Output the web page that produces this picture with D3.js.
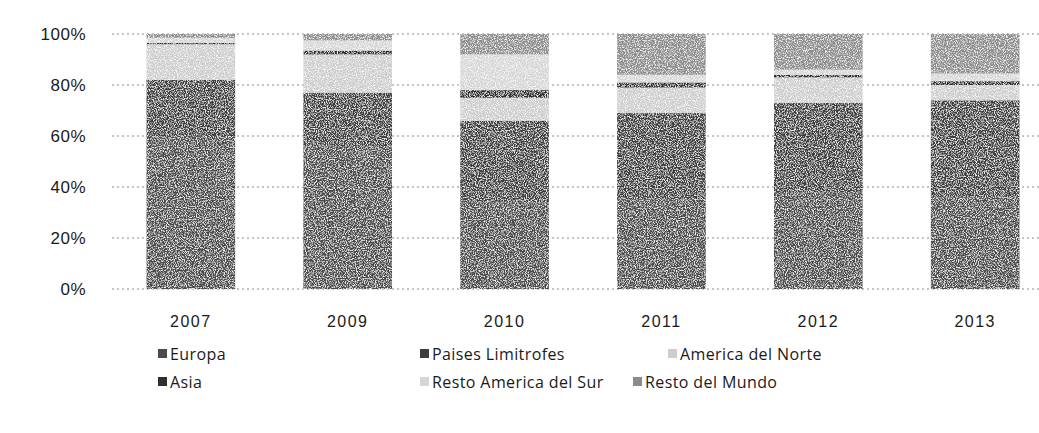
<!DOCTYPE html>
<html>
<head>
<meta charset="utf-8">
<script src="https://cdn.jsdelivr.net/npm/d3@7"></script>
<style>
	body { margin: 0; background: #fff; }
	svg { display: block; font-family: "Open Sans", "DejaVu Sans", sans-serif; }
	.tick text { fill: #1a1a1a; }
</style>
</head>
<body>
<script>
// years on the x axis
var years = ['2007', '2009', '2010', '2011', '2012', '2013'];

// share of each region per year (percent), bottom of the stack first
var europa = [60, 56, 34, 35, 38, 36];
var paisesLimitrofes = [22, 21, 32, 34, 35, 38];
var americaNorte = [14, 15, 9, 10, 10, 6];
var asia = [0.5, 1.5, 3, 2, 1, 1.5];
var restoAmericaSur = [2, 4, 14, 3, 2, 3];
var restoMundo = [1.5, 2.5, 8, 16, 14, 15.5];

var seriesNames = ['Europa', 'Paises Limitrofes', 'America del Norte', 'Asia', 'Resto America del Sur', 'Resto del Mundo'];
var seriesValues = [europa, paisesLimitrofes, americaNorte, asia, restoAmericaSur, restoMundo];
var seriesColors = ['#4a4a4a', '#3c3c3c', '#cdcdcd', '#2e2e2e', '#d6d6d6', '#8c8c8c'];

var yTicks = [0, 20, 40, 60, 80, 100];

// build rows for d3.stack
var rows = years.map(function(y, i) {
	var r = { year: y };
	seriesNames.forEach(function(n, k) { r[n] = seriesValues[k][i]; });
	return r;
});

var width = 1039, height = 433;
var margin = { top: 34, left: 112 };
var plotW = 942, plotH = 255;

var svg = d3.select("body").append("svg")
	.attr("width", width)
	.attr("height", height);

// grainy look of the scanned original
var filter = svg.append("defs").append("filter")
	.attr("id", "grain")
	.attr("x", 0).attr("y", 0).attr("width", 1).attr("height", 1);
filter.append("feTurbulence")
	.attr("type", "fractalNoise")
	.attr("baseFrequency", 0.9)
	.attr("numOctaves", 2)
	.attr("seed", 3)
	.attr("result", "noise");
filter.append("feColorMatrix")
	.attr("in", "noise")
	.attr("type", "matrix")
	.attr("values", "0 0 0 0 1  0 0 0 0 1  0 0 0 0 1  0 0 0 3 -1.35")
	.attr("result", "specks");
filter.append("feComposite")
	.attr("in", "specks")
	.attr("in2", "SourceGraphic")
	.attr("operator", "in")
	.attr("result", "masked");
var merge = filter.append("feMerge");
merge.append("feMergeNode").attr("in", "SourceGraphic");
merge.append("feMergeNode").attr("in", "masked");

var g = svg.append("g")
	.attr("transform", "translate(" + margin.left + "," + margin.top + ")");

var x = d3.scaleBand()
	.domain(years)
	.range([0, plotW])
	.paddingInner(0.435)
	.paddingOuter(0.22);

var y = d3.scaleLinear()
	.domain([0, 100])
	.range([plotH, 0]);

// dotted gridlines
g.selectAll(".grid")
	.data(yTicks)
	.enter().append("line")
	.attr("class", "grid")
	.attr("x1", 0)
	.attr("x2", plotW)
	.attr("y1", function(d) { return y(d); })
	.attr("y2", function(d) { return y(d); })
	.attr("stroke", "#8a8a8a")
	.attr("stroke-width", 1)
	.attr("stroke-dasharray", "2,3");

// y axis labels
var yAxis = g.append("g")
	.call(d3.axisLeft(y).tickValues(yTicks).tickSize(0).tickPadding(26)
		.tickFormat(function(d) { return d + "%"; }));
yAxis.select(".domain").remove();
yAxis.selectAll("text").style("font-size", "17px").style("letter-spacing", "0.5px");

// stacked bars
var stack = d3.stack().keys(seriesNames);
var layers = stack(rows);

var bars = g.append("g").attr("filter", "url(#grain)");

var layer = bars.selectAll(".layer")
	.data(layers)
	.enter().append("g")
	.attr("class", "layer")
	.attr("fill", function(d, i) { return seriesColors[i]; });

layer.selectAll("rect")
	.data(function(d) { return d; })
	.enter().append("rect")
	.attr("x", function(d) { return x(d.data.year); })
	.attr("width", x.bandwidth())
	.attr("y", function(d) { return y(d[1]); })
	.attr("height", function(d) { return y(d[0]) - y(d[1]); });

// x axis labels
var xAxis = g.append("g")
	.attr("transform", "translate(0," + plotH + ")")
	.call(d3.axisBottom(x).tickSize(0).tickPadding(27));
xAxis.select(".domain").remove();
xAxis.selectAll("text").style("font-size", "16px").style("letter-spacing", "1.5px");

// legend, two rows of three (as laid out in the original)
var legendX = [158, 420, 668, 158, 420, 633];
var legendY = [354, 354, 354, 382, 382, 382];

var legend = svg.selectAll(".legend")
	.data(seriesNames)
	.enter().append("g")
	.attr("class", "legend")
	.attr("transform", function(d, i) {
		return "translate(" + legendX[i] + "," + legendY[i] + ")";
	});

legend.append("rect")
	.attr("x", 0)
	.attr("y", -5)
	.attr("width", 9)
	.attr("height", 9)
	.attr("fill", function(d, i) { return seriesColors[i]; });

legend.append("text")
	.attr("x", 12)
	.attr("dy", ".35em")
	.style("font-size", "16px")
	.style("letter-spacing", "0.4px")
	.style("fill", "#1a1a1a")
	.text(function(d) { return d; });
</script>
</body>
</html>
